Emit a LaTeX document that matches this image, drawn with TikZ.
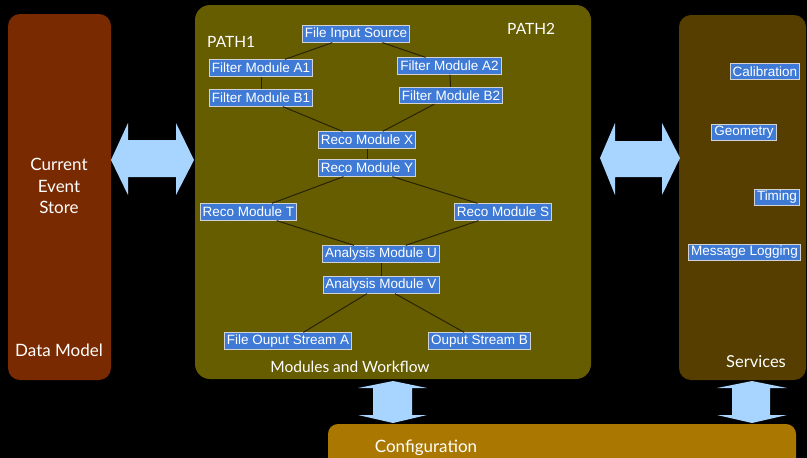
\documentclass[tikz,border=0pt]{standalone}
\usepackage{fontspec}
\setmainfont{Lato}
\newfontfamily\arialfont{Liberation Sans}
\usetikzlibrary{calc}
\definecolor{dmbrown}{RGB}{122,42,0}
\definecolor{modolive}{RGB}{102,92,0}
\definecolor{servbrown}{RGB}{85,62,0}
\definecolor{confgold}{RGB}{170,120,0}
\definecolor{modblue}{RGB}{62,122,214}
\definecolor{arrowblue}{RGB}{168,213,255}
\definecolor{linkdark}{RGB}{40,36,0}

\begin{document}
\begin{tikzpicture}[x=1pt,y=-1pt]
    \tikzset{mod/.style={draw=gray!35,line width=0.8pt,fill=modblue,text=white,font=\arialfont\fontsize{13.5}{13.5}\selectfont,inner xsep=2.5pt,inner ysep=1.2pt,minimum height=16.5pt},
             lbl/.style={text=white,font=\fontsize{15.5}{15.5}\selectfont,inner sep=0pt},
             link/.style={draw=linkdark,line width=1pt},
             bigarrow/.style={fill=arrowblue}};
	\useasboundingbox (0,0) rectangle (807,458);
	\fill[black] (0,0) rectangle (807,458);
	\clip (0,0) rectangle (807,458);
	% panels
	\fill[dmbrown,rounded corners=12pt] (8,14) rectangle (111,380);
	\fill[modolive,rounded corners=15pt] (195,5) rectangle (591,379);
	\fill[servbrown,rounded corners=12pt] (679,15) rectangle (806,380);
	\fill[confgold,rounded corners=10pt] (328,424) rectangle (796,475);
	% arrows
	\fill[bigarrow] (111,160) -- (128,123) -- (128,140) -- (176,140) -- (176,123) -- (194,160) -- (176,195) -- (176,177) -- (128,177) -- (128,195) -- cycle;
	\fill[bigarrow] (600,158) -- (615,123) -- (615,141) -- (662,141) -- (662,123) -- (680,158) -- (662,195) -- (662,177) -- (615,177) -- (615,195) -- cycle;
	\fill[bigarrow] (393,381) -- (427,388) -- (412,388) -- (412,415) -- (427,415) -- (393,423) -- (358,415) -- (373,415) -- (373,388) -- (358,388) -- cycle;
	\fill[bigarrow] (752,381) -- (787,388) -- (770,388) -- (770,415) -- (787,415) -- (752,423) -- (717,415) -- (732,415) -- (732,388) -- (717,388) -- cycle;
	% labels
	\node (store) at (59,186) [lbl,font=\fontsize{17}{21.5}\selectfont,align=center]{Current\\Event\\Store};
	\node (dm) at (59,350) [lbl,font=\fontsize{17}{17}\selectfont]{Data Model};
	\node (p1) at (207,42) [lbl,anchor=west]{PATH1};
	\node (p2) at (507,29) [lbl,anchor=west]{PATH2};
	\node (mw) at (350,367) [lbl]{Modules and Workflow};
	\node (serv) at (756,362) [lbl,font=\fontsize{16.5}{16.5}\selectfont]{Services};
	\node (conf) at (426,448) [lbl,font=\fontsize{17}{17}\selectfont]{Configuration};
	% modules
	\node (fis) at (356,34) [mod]{File Input Source};
	\node (fa1) at (261,68) [mod]{Filter Module A1};
	\node (fa2) at (449.5,66) [mod]{Filter Module A2};
	\node (fb1) at (261,98) [mod]{Filter Module B1};
	\node (fb2) at (451,95.5) [mod]{Filter Module B2};
	\node (rx) at (367,140) [mod]{Reco Module X};
	\node (ry) at (367,168) [mod]{Reco Module Y};
	\node (rt) at (248.5,212) [mod]{Reco Module T};
	\node (rs) at (503,212) [mod]{Reco Module S};
	\node (au) at (381,254) [mod]{Analysis Module U};
	\node (av) at (381,285) [mod]{Analysis Module V};
	\node (osa) at (288,341) [mod]{File Ouput Stream A};
	\node (osb) at (479.5,341) [mod]{Ouput Stream B};
	% services
	\node (cal) at (765,71.5) [mod]{Calibration};
	\node (geo) at (744,132.5) [mod]{Geometry};
	\node (tim) at (777,197.5) [mod]{Timing};
	\node (msg) at (744.5,252.5) [mod]{Message Logging};
	% workflow links
	\draw[link] ($(fis.south west)!.28!(fis.south east)$) -- ($(fa1.north west)!.73!(fa1.north east)$);
	\draw[link] ($(fis.south west)!.745!(fis.south east)$) -- ($(fa2.north west)!.27!(fa2.north east)$);
	\draw[link] (fa1) -- (fb1);
	\draw[link] (fa2) -- (fb2);
	\draw[link] ($(fb1.south west)!.71!(fb1.south east)$) -- ($(rx.north west)!.25!(rx.north east)$);
	\draw[link] ($(fb2.south west)!.34!(fb2.south east)$) -- ($(rx.north west)!.66!(rx.north east)$);
	\draw[link] (rx) -- (ry);
	\draw[link] ($(ry.south west)!.26!(ry.south east)$) -- ($(rt.north west)!.74!(rt.north east)$);
	\draw[link] ($(ry.south west)!.76!(ry.south east)$) -- ($(rs.north west)!.24!(rs.north east)$);
	\draw[link] ($(rt.south west)!.79!(rt.south east)$) -- ($(au.north west)!.27!(au.north east)$);
	\draw[link] ($(rs.south west)!.25!(rs.south east)$) -- ($(au.north west)!.71!(au.north east)$);
	\draw[link] (au) -- (av);
	\draw[link] ($(av.south west)!.38!(av.south east)$) -- ($(osa.north west)!.62!(osa.north east)$);
	\draw[link] ($(av.south west)!.62!(av.south east)$) -- ($(osb.north west)!.35!(osb.north east)$);
\end{tikzpicture}
\end{document}
